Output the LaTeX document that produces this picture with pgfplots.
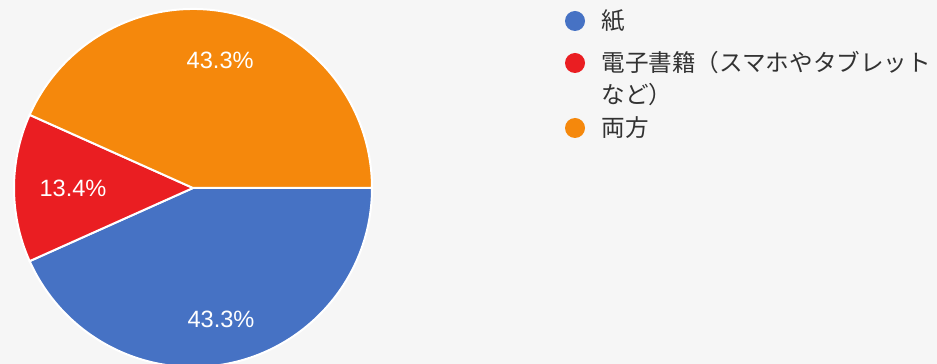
\documentclass[border=0pt]{standalone}
\usepackage{pgfplots}
\pgfplotsset{compat=1.18}
\usepackage{fontspec}
\setmainfont{Liberation Sans}
\newfontfamily\cjk{Noto Sans CJK JP}
\usetikzlibrary{calc}

\definecolor{pblue}{RGB}{70,114,196}
\definecolor{pred}{RGB}{234,30,34}
\definecolor{porange}{RGB}{245,136,12}
\definecolor{ltext}{RGB}{50,50,50}
\definecolor{bg}{RGB}{246,246,246}

% pie centre and radius in pixel units of the axis
\def\cx{193}
\def\cy{176}
\def\rad{89.5pt}

% one slice: start percentage, value, colour, label distance
\newcommand\slice[4]{%
  \pgfmathsetmacro\a{-3.6*#1}%
  \pgfmathsetmacro\b{-3.6*(#1+#2)}%
  \pgfmathsetmacro\m{(\a+\b)/2}%
  \edef\temp{%
    \noexpand\fill[#3, draw=white, line width=1pt]
      (axis cs:\cx,\cy) -- ++(\a:\rad)
      arc[start angle=\a, end angle=\b, radius=\rad] -- cycle;
    \noexpand\node[text=white, font=\noexpand\fontsize{11.8}{14}\noexpand\selectfont]
      at ($(axis cs:\cx,\cy)+(\m:#4)$) {#2\noexpand\%};
  }\temp
}

\begin{document}
\begin{tikzpicture}
\begin{axis}[
    x=0.5pt, y=0.5pt,
    xmin=0, xmax=937, ymin=0, ymax=364,
    axis lines=none, ticks=none,
    clip=true,
]
\fill[bg] (axis cs:0,0) rectangle (axis cs:937,364);

% 紙 43.3, 電子書籍 13.4, 両方 43.3
\slice{0}{43.3}{pblue}{67pt}
\slice{43.3}{13.4}{pred}{60pt}
\slice{56.7}{43.3}{porange}{65pt}

% legend
\fill[pblue] (axis cs:575,343) circle[radius=5pt];
\fill[pred] (axis cs:575,301) circle[radius=5pt];
\fill[porange] (axis cs:575,236) circle[radius=5pt];
\node[anchor=west, text=ltext, font=\cjk\fontsize{11.8}{14}\selectfont, inner sep=0pt]
  at (axis cs:601,343) {紙};
\node[anchor=west, text=ltext, font=\cjk\fontsize{11.8}{14}\selectfont, inner sep=0pt]
  at (axis cs:601,301) {電子書籍（スマホやタブレット};
\node[anchor=west, text=ltext, font=\cjk\fontsize{11.8}{14}\selectfont, inner sep=0pt]
  at (axis cs:601,269) {など）};
\node[anchor=west, text=ltext, font=\cjk\fontsize{11.8}{14}\selectfont, inner sep=0pt]
  at (axis cs:601,236) {両方};
\end{axis}
\end{tikzpicture}
\end{document}
